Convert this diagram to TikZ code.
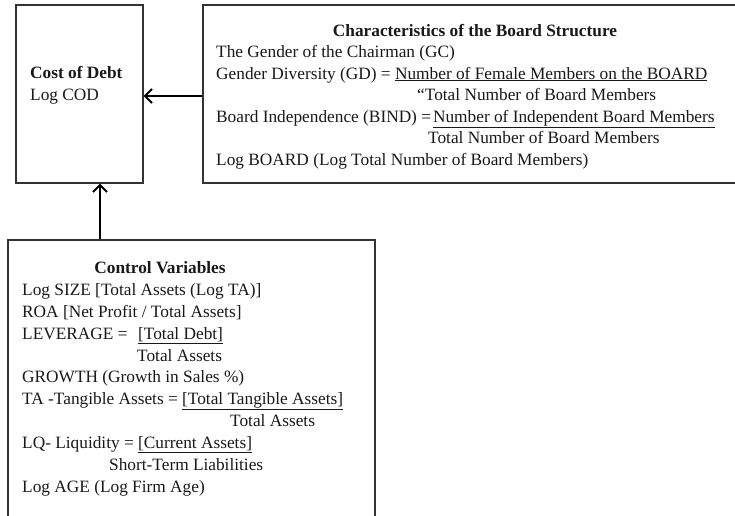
\documentclass[tikz,border=0pt]{standalone}
\usepackage{fontspec}
\setmainfont{Liberation Serif}
\usetikzlibrary{arrows.meta}
\tikzset{
  box/.style={draw=black!80, line width=1.2pt, fill=white, inner sep=0pt},
  txt/.style={anchor=base west, inner sep=0pt, font=\fontsize{17.3}{20}\selectfont, text=black!90},
  ttl/.style={anchor=base, inner sep=0pt, font=\fontsize{17.3}{20}\selectfont\bfseries, text=black!90},
  arr/.style={line width=2.2pt, black, -{Straight Barb[length=7pt, width=14pt, line width=2pt]}}
}
\begin{document}
\begin{tikzpicture}[x=1pt, y=-1pt]
\useasboundingbox (0,0) rectangle (735,515);
\clip (0,0) rectangle (735,515);
\fill[white] (0,0) rectangle (735,515);
% boxes
\node[box, minimum width=127pt, minimum height=178pt] (cod) at (79.5,94) {};
\node[box, minimum width=545pt, minimum height=178pt] (board) at (475.5,94) {};
\node[box, minimum width=367pt, minimum height=300pt] (ctrl) at (191.5,390) {};
% cost of debt
\node[txt, font=\fontsize{17.3}{20}\selectfont\bfseries] (codt) at (30,78) {Cost of Debt};
\node[txt] (codl) at (30,100) {Log COD};
% board
\node[ttl] (bt) at (475,36) {Characteristics of the Board Structure};
\node[txt] (b1) at (216,57.5) {The Gender of the Chairman (GC)};
\node[txt] (b2) at (216,79) {Gender Diversity (GD) = \underline{Number of Female Members on the BOARD}};
\node[txt] (b3) at (417,100.5) {“Total Number of Board Members};
\node[txt] (b4) at (216,122) {Board Independence (BIND) =\hspace{2pt}\underline{Number of Independent Board Members}};
\node[txt] (b5) at (428,143.5) {Total Number of Board Members};
\node[txt] (b6) at (216,165) {Log BOARD (Log Total Number of Board Members)};
% control
\node[ttl] (ct) at (160,273) {Control Variables};
\node[txt] (c1) at (22,295) {Log SIZE [Total Assets (Log TA)]};
\node[txt] (c2) at (22,317) {ROA [Net Profit / Total Assets]};
\node[txt] (c3) at (22,339) {LEVERAGE =};
\node[txt] (c3u) at (138,339) {\underline{[Total Debt]}};
\node[txt] (c4) at (137,361) {Total Assets};
\node[txt] (c5) at (22,382) {GROWTH (Growth in Sales \%)};
\node[txt] (c6) at (22,404) {TA -Tangible Assets = \underline{[Total Tangible Assets]}};
\node[txt] (c7) at (230,426) {Total Assets};
\node[txt] (c8) at (22,448) {LQ- Liquidity = \underline{[Current Assets]}};
\node[txt] (c9) at (109,470) {Short-Term Liabilities};
\node[txt] (c10) at (22,492) {Log AGE (Log Firm Age)};
% arrows
\coordinate (vx) at (100,0);
\coordinate (hy) at (0,96);
\draw[arr] (board.west |- hy) -- (cod.east |- hy);
\draw[arr] (ctrl.north -| vx) -- (cod.south -| vx);
\end{tikzpicture}
\end{document}
